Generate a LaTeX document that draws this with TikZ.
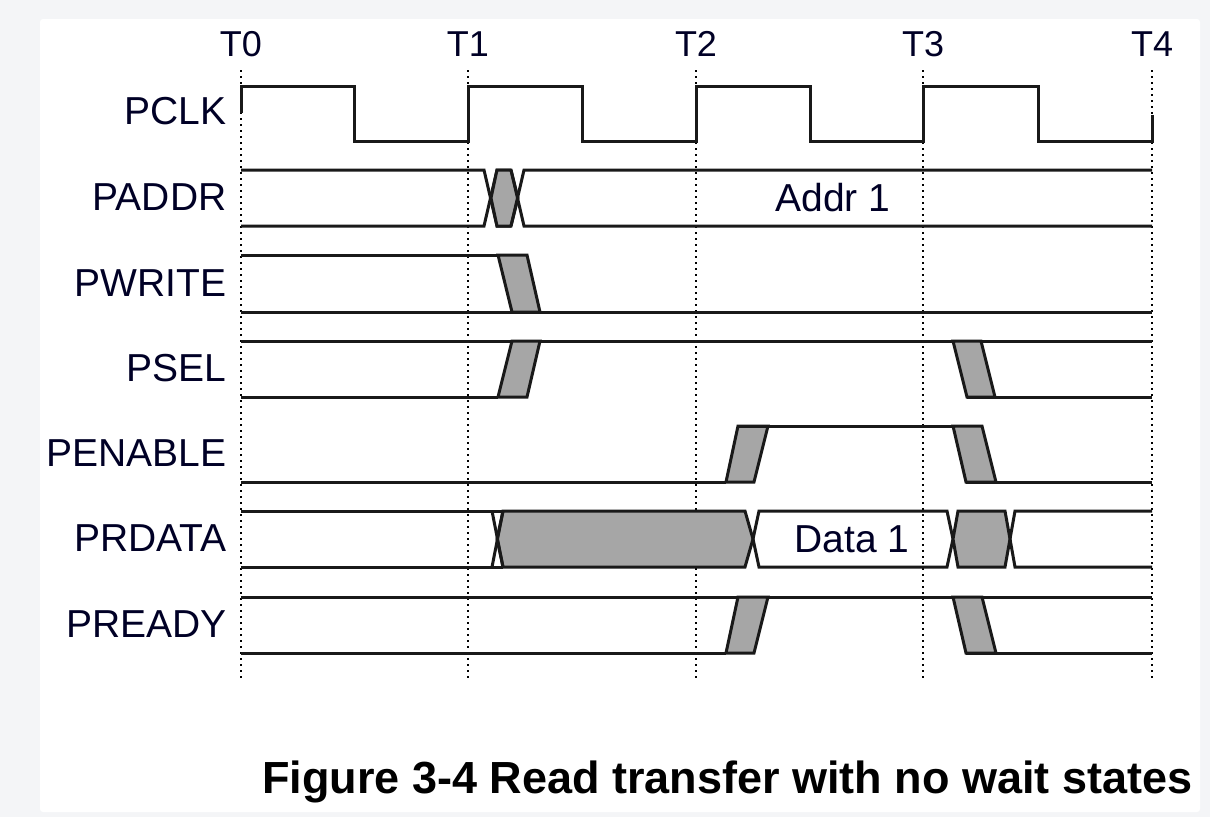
\documentclass[tikz,border=0pt]{standalone}
\usepackage{fontspec}
\setmainfont{Liberation Sans}
\usetikzlibrary{positioning}
\colorlet{Wave}{black!90}
\colorlet{Shade}{black!35}
\colorlet{Panel}{white}
\definecolor{Page}{HTML}{F4F5F7}
\tikzset{
  wave/.style={draw=Wave, line width=3pt, line join=miter},
  slew/.style={wave, fill=Shade},
  grid/.style={draw=black, line width=2pt, dash pattern=on 2pt off 4pt},
  sig/.style={anchor=east, font=\fontsize{39}{44}\selectfont, text=black!85!blue},
  tick/.style={anchor=south, font=\fontsize{36}{40}\selectfont, text=black!85!blue},
  val/.style={font=\fontsize{39}{44}\selectfont, text=black!85!blue},
}
\begin{document}
\begin{tikzpicture}[x=1pt, y=-1pt]
        % page and panel
        \fill[Page] (0,0) rectangle (1210,817);
        \fill[Panel, rounded corners=3pt] (40,19) rectangle (1200,812);

        % time marks
        \foreach \t/\x in {0/241, 1/468, 2/696, 3/923, 4/1152} {
          \draw[grid] (\x,70) -- (\x,680);
          \node[tick] (T\t) at (\x,60) {T\t};
        }

        % signal names
        \node[sig] (nPCLK) at (230,111) {PCLK};
        \node[sig] (nPADDR) at (230,197) {PADDR};
        \node[sig] (nPWRITE) at (230,283) {PWRITE};
        \node[sig] (nPSEL) at (230,368) {PSEL};
        \node[sig] (nPENABLE) at (230,453) {PENABLE};
        \node[sig] (nPRDATA) at (230,538) {PRDATA};
        \node[sig] (nPREADY) at (230,624) {PREADY};

        % PCLK
        \draw[wave] (241,113) -- (241,86) -- (354,86) -- (354,141) -- (468,141) -- (468,86)
          -- (582,86) -- (582,141) -- (696,141) -- (696,86) -- (810,86) -- (810,141)
          -- (923,141) -- (923,86) -- (1038,86) -- (1038,141) -- (1152,141) -- (1152,115);

        % PADDR
        \draw[wave] (241,170) -- (484,170) -- (497,226) -- (511,226);
        \draw[wave] (241,226) -- (484,226) -- (497,170) -- (511,170);
        \draw[slew] (491,198) -- (497,170) -- (511,170) -- (518,198) -- (511,226) -- (497,226) -- cycle;
        \draw[wave] (511,170) -- (524,226) -- (1152,226);
        \draw[wave] (511,226) -- (524,170) -- (1152,170);
        \node[val] (aAddr) at (833,198) {Addr 1};

        % PWRITE
        \draw[wave] (241,255) -- (498,255);
        \draw[slew] (498,255) -- (527,255) -- (540,312) -- (512,312) -- cycle;
        \draw[wave] (241,312) -- (1152,312);

        % PSEL
        \draw[wave] (241,341) -- (1152,341);
        \draw[wave] (241,397) -- (498,397);
        \draw[slew] (498,397) -- (527,397) -- (540,341) -- (512,341) -- cycle;
        \draw[slew] (953,341) -- (981,341) -- (995,397) -- (967,397) -- cycle;
        \draw[wave] (967,397) -- (1152,397);

        % PENABLE
        \draw[wave] (241,482) -- (726,482);
        \draw[slew] (726,482) -- (754,482) -- (768,426) -- (738,426) -- cycle;
        \draw[wave] (738,426) -- (982,426);
        \draw[slew] (953,426) -- (982,426) -- (996,482) -- (966,482) -- cycle;
        \draw[wave] (966,482) -- (1152,482);

        % PRDATA
        \draw[wave] (503,511) -- (492,511) -- (241,511);
        \draw[wave] (503,567) -- (492,567) -- (241,567);
        \draw[slew] (497,539) -- (503,511) -- (745,511) -- (753,539) -- (745,567) -- (503,567) -- cycle;
        \draw[wave] (492,511) -- (503,567);
        \draw[wave] (492,567) -- (503,511);
        \draw[wave] (753,539) -- (759,511) -- (947,511) -- (953,539) -- (947,567) -- (759,567) -- cycle;
        \draw[slew] (953,539) -- (958,511) -- (1005,511) -- (1010,539) -- (1005,567) -- (958,567) -- cycle;
        \draw[wave] (1010,539) -- (1015,511) -- (1152,511);
        \draw[wave] (1010,539) -- (1015,567) -- (1152,567);
        \node[val] (aData) at (852,539) {Data 1};

        % PREADY
        \draw[wave] (241,597) -- (1152,597);
        \draw[wave] (241,653) -- (726,653);
        \draw[slew] (726,653) -- (754,653) -- (768,597) -- (738,597) -- cycle;
        \draw[slew] (953,597) -- (982,597) -- (996,653) -- (966,653) -- cycle;
        \draw[wave] (966,653) -- (1152,653);

        % caption
        \node[anchor=east, font=\bfseries\fontsize{45}{50}\selectfont] (cap) at (1196,782) {Figure 3-4 Read transfer with no wait states};
\end{tikzpicture}
\end{document}
